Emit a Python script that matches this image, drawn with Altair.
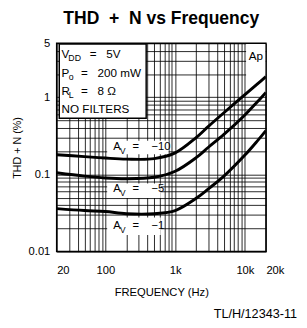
import altair as alt
import pandas as pd

# ---- data ----
freq = [20, 50, 100, 200, 500, 1000, 2000, 3000, 5000, 10000, 15000, 20000]
thd_av10 = [0.18, 0.17, 0.163, 0.158, 0.16, 0.19, 0.30, 0.42, 0.63, 1.08, 1.48, 1.85]
thd_av5 = [0.105, 0.095, 0.09, 0.088, 0.092, 0.11, 0.165, 0.225, 0.33, 0.59, 0.87, 1.15]
thd_av1 = [0.036, 0.034, 0.033, 0.031, 0.031, 0.034, 0.049, 0.065, 0.095, 0.178, 0.27, 0.37]
gains = ["-10", "-5", "-1"]

x_ticks = [20, 30, 40, 50, 60, 70, 80, 90, 100, 200, 300, 400, 500, 600, 700, 800, 900,
           1000, 2000, 3000, 4000, 5000, 6000, 7000, 8000, 9000, 10000, 20000]
x_labels = {20: "20", 100: "100", 1000: "1k", 10000: "10k", 20000: "20k"}
y_ticks = [0.01, 0.02, 0.03, 0.04, 0.05, 0.06, 0.07, 0.08, 0.09,
           0.1, 0.2, 0.3, 0.4, 0.5, 0.6, 0.7, 0.8, 0.9, 1, 2, 3, 4, 5]
y_labels = {0.01: "0.01", 0.1: "0.1", 1: "1", 5: "5"}

rows = []
for g, vals in zip(gains, [thd_av10, thd_av5, thd_av1]):
    for f, v in zip(freq, vals):
        rows.append({"freq": f, "thd": v, "gain": g})
curves = pd.DataFrame(rows)

FONT = "Liberation Sans"
BLACK = "#000000"
SP = "\u00a0"

def label_expr(mapping):
    parts = [f"datum.value == {k} ? '{v}'" for k, v in mapping.items()]
    return " : ".join(parts) + " : ''"

xs = alt.Scale(type="log", domain=[20, 20000], nice=False)
ys = alt.Scale(type="log", domain=[0.01, 5], nice=False)

x_axis = alt.Axis(
    values=x_ticks, labelExpr=label_expr(x_labels), grid=True, gridColor=BLACK,
    gridWidth=1, gridOpacity=0.85, ticks=False, domain=False, labelPadding=14,
    labelFont=FONT, labelFontSize=11.5, labelColor=BLACK, labelOverlap=False,
    labelFlush=False,
    labelAlign={"condition": {"test": "datum.value == 20 || datum.value == 20000",
                              "value": "left"}, "value": "center"},
    title="FREQUENCY (Hz)", titleFont=FONT, titleFontSize=11.5,
    titleFontWeight="normal", titleColor=BLACK, titlePadding=11,
)
y_axis = alt.Axis(
    values=y_ticks, labelExpr=label_expr(y_labels), grid=True, gridColor=BLACK,
    gridWidth=1, gridOpacity=0.85, ticks=False, domain=False, labelPadding=7,
    labelFont=FONT, labelFontSize=11.5, labelColor=BLACK, labelOverlap=False,
    labelFlush=False,
    title="THD + N (%)", titleFont=FONT, titleFontSize=11,
    titleFontWeight="normal", titleColor=BLACK, titlePadding=6,
)

lines = alt.Chart(curves).mark_line(
    color=BLACK, strokeWidth=3, interpolate="catmull-rom", clip=True
).encode(
    x=alt.X("freq:Q", scale=xs, axis=x_axis),
    y=alt.Y("thd:Q", scale=ys, axis=y_axis),
    detail="gain:N",
)

# annotation boxes (white areas that hide the grid)
boxes = pd.DataFrame({
    "f1": [21.8, 106, 106, 106, 10400],
    "f2": [384, 803, 621, 621, 19600],
    "v1": [4.9, 0.274, 0.0764, 0.0277, 4.9],
    "v2": [0.535, 0.182, 0.0494, 0.0164, 1.05],
    "stroke": [1.5, 0, 0, 0, 0],
})
white = alt.Chart(boxes).mark_rect(color="white", stroke=BLACK).encode(
    x=alt.X("f1:Q", scale=xs, axis=x_axis), x2="f2:Q",
    y=alt.Y("v1:Q", scale=ys, axis=y_axis), y2="v2:Q",
    strokeWidth=alt.StrokeWidth("stroke:Q", scale=None, legend=None),
)

def txt(s, f, v, dx=0, dy=0, size=12, align="left"):
    d = pd.DataFrame({"f": [f], "v": [v], "t": [s]})
    return alt.Chart(d).mark_text(
        align=align, baseline="middle", dx=dx, dy=dy, fontSize=size,
        font=FONT, color=BLACK,
    ).encode(
        x=alt.X("f:Q", scale=xs, axis=x_axis),
        y=alt.Y("v:Q", scale=ys, axis=y_axis),
        text="t:N",
    )

anchor_f = 23.5
texts = [
    txt("V", anchor_f, 3.58),
    txt("DD", anchor_f, 3.58, dx=7, dy=4, size=9),
    txt("=" + SP * 3 + "5V", anchor_f, 3.58, dx=29),
    txt("P", anchor_f, 2.06),
    txt("o", anchor_f, 2.06, dx=7.5, dy=4, size=9),
    txt("=" + SP * 3 + "200" + SP + "mW", anchor_f, 2.06, dx=20),
    txt("R", anchor_f, 1.205),
    txt("L", anchor_f, 1.205, dx=7.5, dy=4, size=9),
    txt("=" + SP * 3 + "8" + SP + "Ω", anchor_f, 1.205, dx=20),
    txt("NO FILTERS", anchor_f, 0.705),
    txt("Ap", 20000, 3.43, dx=-3, align="right"),
]
label_f = 129
for g, v in zip(gains, [0.224, 0.0647, 0.0213]):
    texts.append(txt("A", label_f, v, size=11.5))
    texts.append(txt("V", label_f, v, dx=7, dy=4, size=8.5))
    texts.append(txt("=" + SP * 4 + "\u2212" + g.lstrip("-"), label_f, v, dx=20, size=11.5))

footer = alt.Chart(pd.DataFrame({"t": ["TL/H/12343-11"]})).mark_text(
    align="right", baseline="middle", fontSize=13, font=FONT, color=BLACK
).encode(x=alt.value(247), y=alt.value(278), text="t:N")

chart = alt.layer(white, lines, *texts, footer).properties(
    width=215, height=214,
    title=alt.TitleParams("THD" + SP * 2 + "+" + SP * 2 + "N vs Frequency", font=FONT,
                          fontSize=18, fontWeight="bold", anchor="middle", color=BLACK,
                          offset=10),
    autosize=alt.AutoSizeParams(type="none"),
    padding={"left": 50, "top": 32, "right": 34, "bottom": 66},
).configure(background="white").configure_view(stroke=BLACK, strokeWidth=1.5)

chart.save("out.html", embed_options={"renderer": "svg", "actions": False})
